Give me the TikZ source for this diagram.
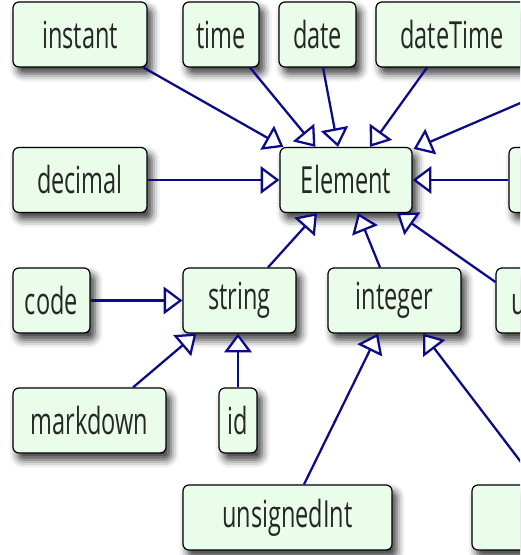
\documentclass[tikz,border=0pt]{standalone}
\usepackage{fontspec}
\newfontfamily\typefont[FakeStretch=0.63]{Open Sans}
\usetikzlibrary{arrows.meta,shadows.blur}
\definecolor{mint}{HTML}{EAFCEA}
\definecolor{linkblue}{HTML}{0B0B8A}
\tikzset{
  typebox/.style={draw=black, line width=0.9pt, rounded corners=4.5pt, fill=mint,
    minimum height=48.75pt, minimum width=#1*0.75pt, inner sep=0pt, text=black!85,
    font=\typefont\fontsize{28}{32}\selectfont,
    blur shadow={shadow xshift=3.5pt, shadow yshift=-5pt, shadow blur radius=6pt, shadow opacity=80}},
  isa/.style={draw=linkblue, line width=1.7pt, -{Triangle[fill=white, length=14pt, width=20.5pt]}}
}
\begin{document}
\begin{tikzpicture}[x=0.75pt, y=-0.75pt]
\useasboundingbox (0,0) rectangle (520,555);
\clip (0,0) rectangle (520,555);
% primitive types
\node[typebox=134] (instant) at (80,34.5) {instant};
\node[typebox=76] (time) at (221,34.5) {time};
\node[typebox=77] (date) at (317.5,34.5) {date};
\node[typebox=152] (dtime) at (452,34.5) {dateTime};
\node[typebox=134] (decimal) at (80,180) {decimal};
\node[typebox=132] (elem) at (346,180) {Element};
\node[typebox=130] (rtype) at (574,180) {};
\coordinate (utype) at (560,86);
\node[typebox=77] (code) at (51.5,300.5) {code};
\node[typebox=113] (string) at (239.5,300.5) {string};
\node[typebox=133] (integer) at (394.5,300.5) {integer};
\node[typebox=61] (uri) at (526.5,300.5) {uri};
\node[typebox=153] (markdown) at (89.5,420.5) {markdown};
\node[typebox=38] (id) at (238,420.5) {id};
\node[typebox=209] (uint) at (287.5,517.5) {unsignedInt};
\node[typebox=209] (pint) at (576.5,517.5) {};
% specialisation
\draw[isa] ([shift={(-4,0)}]instant.south east) -- ([shift={(4,0)}]elem.north west);
\draw[isa] ([shift={(29,0)}]time.south) -- ([shift={(36,0)}]elem.north west);
\draw[isa] ([shift={(5.5,0)}]date.south) -- ([shift={(-8,0)}]elem.north);
\draw[isa] ([shift={(-25,0)}]dtime.south) -- ([shift={(24,0)}]elem.north);
\draw[isa] (utype) -- ([shift={(1,2)}]elem.north east);
\draw[isa] (decimal.east) -- (elem.west);
\draw[isa] (rtype.west) -- (elem.east);
\draw[isa] ([shift={(28.5,0)}]string.north) -- ([shift={(-29,0)}]elem.south);
\draw[isa] ([shift={(-14.5,0)}]integer.north) -- ([shift={(12,0)}]elem.south);
\draw[isa] ([shift={(0,-18.5)}]uri.west) -- ([shift={(51,0)}]elem.south);
\draw[isa] (code.east) -- (string.west);
\draw[isa] ([shift={(43.5,0)}]markdown.north) -- ([shift={(14,0)}]string.south west);
\draw[isa] (id.north) -- (id.north |- string.south);
\draw[isa] ([shift={(16.5,0)}]uint.north) -- ([shift={(-16.5,0)}]integer.south);
\draw[isa] ([shift={(-38.5,0)}]pint.north) -- ([shift={(28.5,0)}]integer.south);
\end{tikzpicture}
\end{document}
